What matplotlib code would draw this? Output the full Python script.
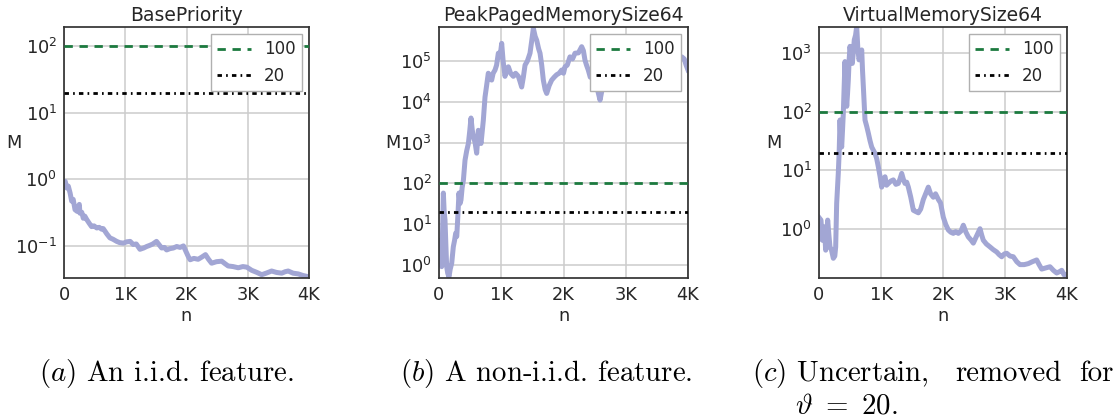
import matplotlib
matplotlib.use("Agg")
import matplotlib.pyplot as plt
import matplotlib.ticker as mticker

# --- data ---
TITLES = ["BasePriority", "PeakPagedMemorySize64", "VirtualMemorySize64"]
CAPTIONS = [r"$(a)$ An i.i.d. feature.", r"$(b)$ A non-i.i.d. feature."]
THRESHOLDS = [100, 20]
THRESH_LABELS = ["100", "20"]
X_TICKS = [0, 1000, 2000, 3000, 4000]
X_TICK_LABELS = ["0", "1K", "2K", "3K", "4K"]

a_n = [0, 20, 45, 70, 100, 125, 150, 180, 215, 250,
       260, 290, 315, 340, 370, 410, 450, 490, 535, 575,
       615, 640, 670, 700, 750, 800, 860, 910, 970, 1020,
       1080, 1130, 1180, 1240, 1300, 1350, 1400, 1450, 1510, 1550,
       1595, 1640, 1675, 1730, 1785, 1840, 1895, 1950, 1990, 2030,
       2060, 2120, 2190, 2250, 2310, 2360, 2410, 2490, 2575, 2630,
       2680, 2760, 2845, 2920, 2985, 3065, 3150, 3228, 3300, 3390,
       3470, 3555, 3610, 3660, 3740, 3825, 3900, 3960, 4000]
a_m = [0.83, 0.93, 0.74, 0.79, 0.62, 0.47, 0.50, 0.35, 0.33, 0.42,
       0.31, 0.32, 0.26, 0.28, 0.25, 0.22, 0.195, 0.20, 0.186, 0.19,
       0.178, 0.182, 0.166, 0.151, 0.132, 0.126, 0.117, 0.112, 0.110, 0.115,
       0.117, 0.105, 0.107, 0.089, 0.093, 0.098, 0.102, 0.107, 0.117, 0.105,
       0.093, 0.095, 0.087, 0.091, 0.093, 0.098, 0.095, 0.100, 0.083, 0.069,
       0.062, 0.065, 0.063, 0.068, 0.074, 0.063, 0.055, 0.058, 0.059, 0.054,
       0.050, 0.049, 0.047, 0.049, 0.048, 0.043, 0.040, 0.037, 0.039, 0.042,
       0.040, 0.039, 0.041, 0.042, 0.039, 0.038, 0.036, 0.035, 0.034]

b_n = [0, 20, 43, 60, 70, 83, 96, 110, 123, 140,
       160, 180, 204, 230, 250, 268, 285, 300, 321, 337,
       353, 372, 392, 418, 445, 472, 495, 514, 535, 552,
       580, 605, 632, 655, 675, 712, 739, 765, 792, 820,
       846, 870, 900, 925, 953, 980, 1007, 1030, 1060, 1085,
       1114, 1150, 1194, 1230, 1275, 1300, 1328, 1355, 1382, 1420,
       1462, 1490, 1516, 1545, 1570, 1600, 1623, 1650, 1676, 1705,
       1730, 1770, 1810, 1850, 1890, 1930, 1971, 2000, 2024, 2060,
       2104, 2145, 2185, 2240, 2292, 2320, 2345, 2370, 2398, 2430,
       2470, 2530, 2587, 2620, 2680, 2750, 2820, 2900, 2980, 3060,
       3140, 3220, 3300, 3380, 3440, 3497, 3560, 3640, 3720, 3800,
       3860, 3900, 3940, 3970, 4000]
b_m = [4.0, 2.0, 0.91, 10, 58, 20, 13, 3.2, 0.91, 0.63,
       0.51, 0.79, 1.1, 2.8, 4.0, 6.0, 5.0, 13, 58, 32,
       39, 79, 120, 370, 630, 950, 2000, 4000, 2000, 1400,
       1000, 550, 2000, 1300, 950, 3500, 13000, 25000, 50000, 40000,
       34000, 50000, 60000, 79000, 155000, 126000, 270000, 100000, 42000, 56000,
       72000, 50000, 42000, 50000, 42000, 32000, 23000, 40000, 79000, 100000,
       155000, 316000, 630000, 400000, 320000, 200000, 155000, 79000, 34000, 20000,
       16000, 25000, 34000, 40000, 46000, 50000, 60000, 50000, 72000, 79000,
       126000, 112000, 155000, 158000, 224000, 178000, 105000, 79000, 60000, 40000,
       50000, 25000, 11000, 20000, 40000, 63000, 79000, 50000, 71000, 89000,
       63000, 40000, 56000, 32000, 40000, 21000, 40000, 63000, 50000, 79000,
       100000, 126000, 112000, 79000, 60000]

c_n = [0, 32, 53, 85, 108, 140, 160, 177, 200, 231,
       255, 269, 285, 311, 325, 339, 352, 366, 380, 392,
       405, 419, 433, 447, 460, 473, 487, 500, 518, 537,
       553, 569, 590, 608, 625, 645, 668, 689, 702, 715,
       742, 770, 796, 823, 850, 877, 903, 930, 957, 985,
       1011, 1038, 1065, 1090, 1118, 1160, 1199, 1240, 1279, 1305,
       1334, 1360, 1387, 1415, 1441, 1480, 1522, 1560, 1602, 1640,
       1683, 1720, 1763, 1800, 1844, 1880, 1925, 1960, 2005, 2045,
       2086, 2125, 2166, 2205, 2247, 2290, 2328, 2370, 2408, 2450,
       2489, 2540, 2597, 2625, 2650, 2700, 2758, 2810, 2866, 2905,
       2947, 2990, 3027, 3080, 3134, 3190, 3242, 3310, 3376, 3440,
       3511, 3550, 3592, 3660, 3726, 3780, 3834, 3880, 3915, 3950,
       3985, 4000]
c_m = [1.58, 1.43, 0.65, 1.1, 0.44, 1.43, 0.79, 0.50, 0.45, 0.32,
       0.35, 0.50, 2.75, 8.9, 20, 72, 32, 25, 50, 93,
       250, 710, 250, 123, 200, 350, 790, 1290, 890, 660,
       1000, 1660, 2000, 2800, 1260, 760, 890, 1120, 500, 270,
       72, 56, 43, 32, 25, 22, 19.5, 16, 11.5, 7.9,
       5.2, 7.1, 7.8, 5.6, 6.0, 6.6, 6.9, 5.8, 6.0, 7.1,
       8.9, 7.1, 6.0, 6.3, 5.2, 3.5, 2.1, 2.0, 1.9, 2.2,
       3.2, 4.0, 5.2, 4.0, 3.5, 4.0, 3.2, 2.8, 1.6, 1.2,
       0.97, 0.89, 0.85, 0.91, 0.85, 0.93, 1.17, 0.89, 0.74, 0.66,
       0.58, 0.76, 1.02, 0.79, 0.65, 0.56, 0.50, 0.45, 0.41, 0.37,
       0.34, 0.38, 0.39, 0.35, 0.34, 0.28, 0.25, 0.25, 0.26, 0.28,
       0.30, 0.25, 0.21, 0.22, 0.23, 0.20, 0.18, 0.19, 0.20, 0.17,
       0.155, 0.166]

Y_LIMS = [(0.033, 193), (0.48, 6.8e5), (0.148, 2750)]

# --- style ---
plt.rcParams["font.family"] = "DejaVu Sans"
plt.rcParams["axes.edgecolor"] = "#333333"
plt.rcParams["axes.linewidth"] = 1.25
plt.rcParams["text.color"] = "#262626"
plt.rcParams["axes.labelcolor"] = "#262626"
plt.rcParams["xtick.color"] = "#262626"
plt.rcParams["ytick.color"] = "#262626"

LINE_COLOR = "#a2a6d4"
GREEN = "#1c7a3f"

fig = plt.figure(figsize=(11.16, 4.18), dpi=100)
W, H = 1116.0, 418.0
# axes boxes in pixels: left, top, right, bottom
boxes = [(64, 27, 309, 278), (439, 27, 688, 278), (819, 27, 1067, 278)]
ylabel_x = [-0.204, -0.187, -0.181]

series = [(a_n, a_m), (b_n, b_m), (c_n, c_m)]

for i, (l, t, r, b) in enumerate(boxes):
    ax = fig.add_axes([l / W, 1 - b / H, (r - l) / W, (b - t) / H])
    n, m = series[i]
    ax.plot(n, m, color=LINE_COLOR, lw=3.6, zorder=2)
    ax.axhline(THRESHOLDS[0], color=GREEN, lw=2, dashes=(3.0, 2.4),
               label=THRESH_LABELS[0], zorder=3)
    ax.axhline(THRESHOLDS[1], color="black", lw=2, dashes=(1.6, 1.5, 0.6, 1.5),
               label=THRESH_LABELS[1], zorder=3)
    ax.set_yscale("log")
    ax.set_xlim(0, 4000)
    ax.set_ylim(*Y_LIMS[i])
    ax.set_xticks(X_TICKS)
    ax.set_xticklabels(X_TICK_LABELS)
    ax.yaxis.set_minor_locator(mticker.NullLocator())
    ax.grid(True, color="#cccccc", lw=1.1)
    ax.set_axisbelow(True)
    ax.tick_params(length=0, labelsize=12.8, pad=5)
    ax.tick_params(axis="x", pad=6)
    ax.set_title(TITLES[i], fontsize=13.5, pad=4)
    ax.set_xlabel("n", fontsize=12.8, labelpad=2)
    ax.set_ylabel("M", fontsize=12.8, rotation=0, va="center", ha="center")
    ax.yaxis.set_label_coords(ylabel_x[i], 0.538)
    leg = ax.legend(loc="upper right", fontsize=12, fancybox=False,
                    framealpha=1, edgecolor="#b0b0b0", borderaxespad=0.4,
                    handlelength=2.0)
    leg.get_frame().set_linewidth(1.0)

# captions
cap_kw = dict(fontsize=20.8, family="cmr10", math_fontfamily="cm",
              color="black", va="baseline", ha="left")
fig.text(39 / W, 1 - 381 / H, CAPTIONS[0], **cap_kw)
fig.text(400 / W, 1 - 381 / H, CAPTIONS[1], **cap_kw)
fig.text(752 / W, 1 - 381 / H, r"$(c)$ Uncertain,", **cap_kw)
fig.text(955 / W, 1 - 381 / H, "removed", **cap_kw)
fig.text(1079 / W, 1 - 381 / H, "for", **cap_kw)
fig.text(795 / W, 1 - 414 / H, r"$\vartheta\ =\ 20$.", **cap_kw)

fig.savefig("out.png", dpi=100)
